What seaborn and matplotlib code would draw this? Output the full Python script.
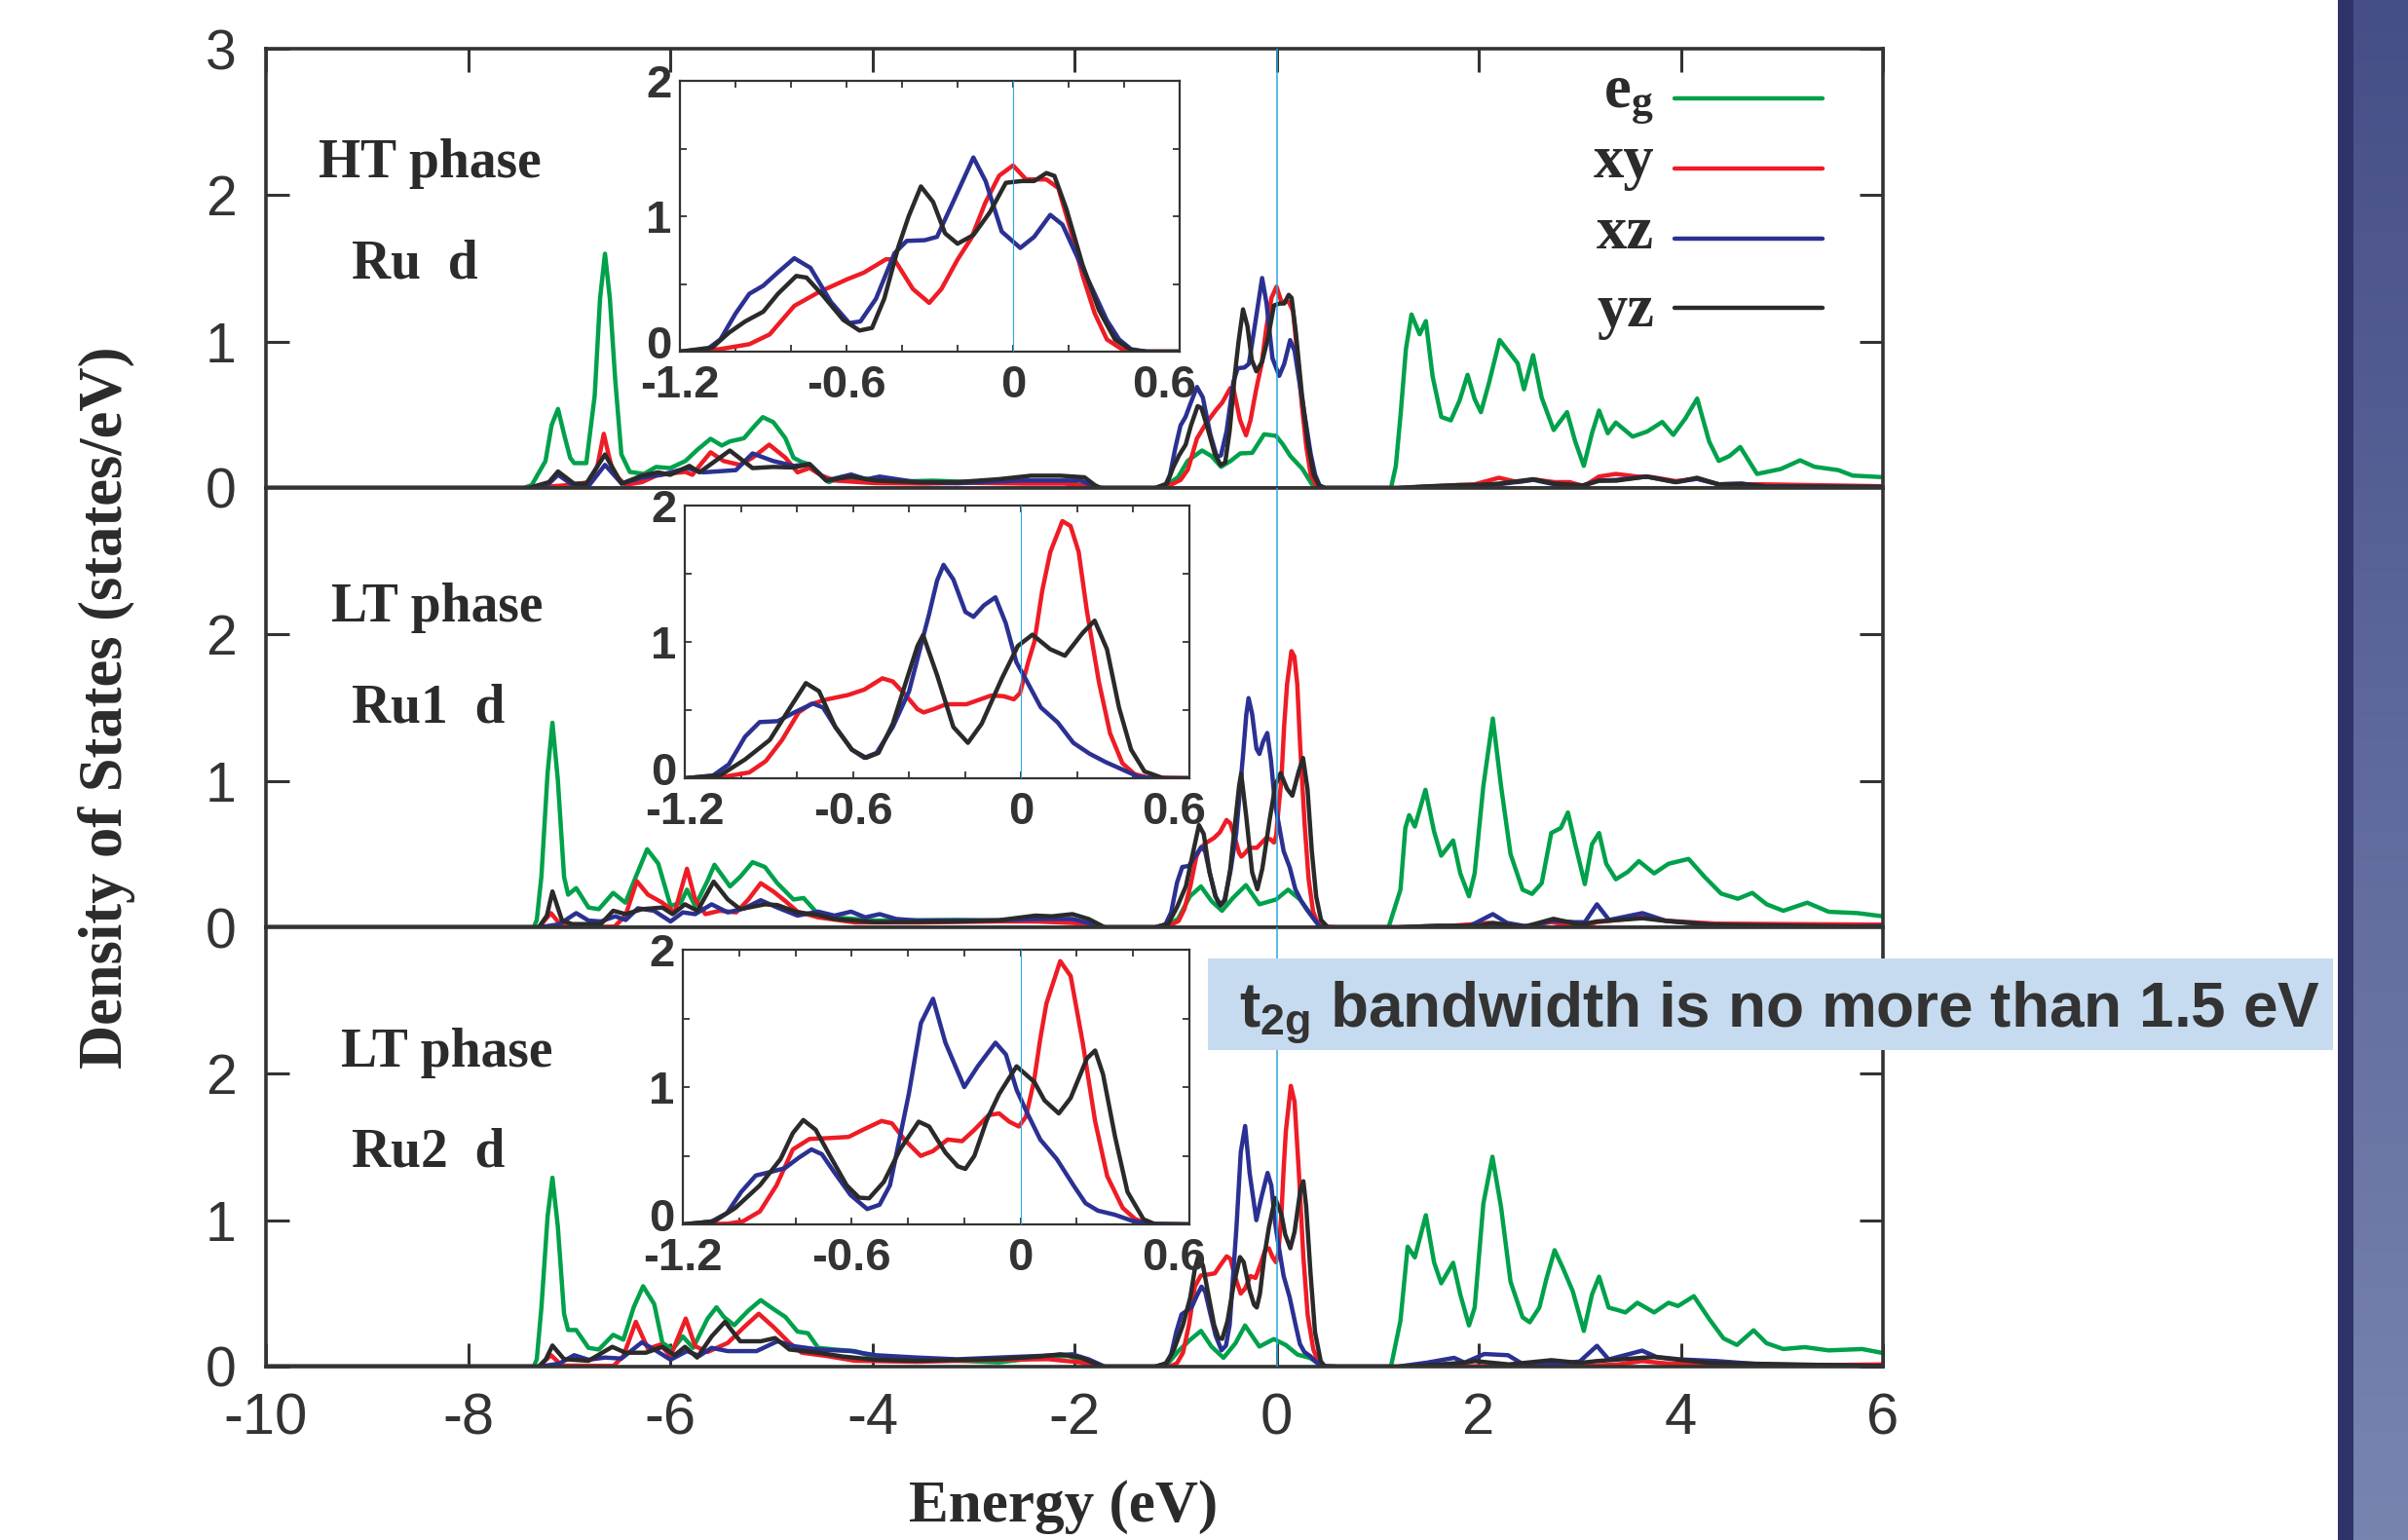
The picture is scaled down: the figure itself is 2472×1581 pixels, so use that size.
import numpy as np
import pandas as pd
import matplotlib
matplotlib.use("Agg")
import matplotlib.pyplot as plt
import matplotlib.transforms as mtransforms
import seaborn as sns
from matplotlib.patches import Rectangle
from matplotlib.lines import Line2D
from matplotlib.colors import LinearSegmentedColormap

# ---------------- data: (energy in eV, DOS in states/eV) ----------------
ORBITALS = ["eg", "xy", "xz", "yz"]
COLORS = {"eg": "#00A14B", "xy": "#EE1C25", "xz": "#2B3192", "yz": "#2A2A2A"}

# HT phase, Ru d
HT_EG = [(-10, 0), (-7.45, 0), (-7.37, 0.02), (-7.234, 0.184), (-7.173, 0.43), (-7.11, 0.54), (-7.05, 0.367),
         (-6.99, 0.207), (-6.95, 0.17), (-6.83, 0.17), (-6.747, 0.63), (-6.694, 1.295), (-6.645, 1.60),
         (-6.597, 1.295), (-6.544, 0.74), (-6.483, 0.23), (-6.40, 0.11), (-6.26, 0.096), (-6.14, 0.144),
         (-6.00, 0.136), (-5.85, 0.184), (-5.73, 0.262), (-5.60, 0.336), (-5.49, 0.29), (-5.41, 0.318),
         (-5.27, 0.34), (-5.17, 0.42), (-5.084, 0.484), (-4.98, 0.45), (-4.86, 0.34), (-4.78, 0.207),
         (-4.70, 0.178), (-4.62, 0.162), (-4.54, 0.107), (-4.43, 0.04), (-4.29, 0.078), (-4.17, 0.05),
         (-3.97, 0.07), (-3.7, 0.045), (-3.4, 0.05), (-3.0, 0.04), (-2.7, 0.045), (-2.4, 0.035), (-2.1, 0.04),
         (-1.94, 0.02), (-1.8, 0.005), (-1.69, 0),
         (-1.2, 0), (-1.117, 0.007), (-0.975, 0.074), (-0.88, 0.185), (-0.738, 0.256), (-0.644, 0.218),
         (-0.549, 0.145), (-0.454, 0.185), (-0.36, 0.236), (-0.241, 0.24), (-0.123, 0.367), (-0.005, 0.356),
         (0.06, 0.3), (0.137, 0.218), (0.256, 0.13), (0.35, 0.025), (0.445, 0),
         (1.132, 0), (1.18, 0.15), (1.227, 0.5), (1.28, 0.95), (1.335, 1.185), (1.416, 1.05), (1.477, 1.14),
         (1.544, 0.762), (1.63, 0.485), (1.724, 0.462), (1.81, 0.596), (1.89, 0.773), (1.96, 0.607),
         (2.022, 0.518), (2.102, 0.718), (2.207, 1.011), (2.3, 0.929), (2.386, 0.851), (2.448, 0.674),
         (2.538, 0.907), (2.623, 0.618), (2.742, 0.396), (2.874, 0.518), (2.955, 0.318), (3.04, 0.151),
         (3.121, 0.374), (3.191, 0.529), (3.277, 0.374), (3.357, 0.447), (3.523, 0.351), (3.665, 0.385),
         (3.816, 0.451), (3.925, 0.363), (4.044, 0.474), (4.162, 0.611), (4.28, 0.318), (4.375, 0.185),
         (4.48, 0.218), (4.588, 0.28), (4.754, 0.096), (4.99, 0.13), (5.18, 0.189), (5.322, 0.145),
         (5.559, 0.122), (5.7, 0.085), (6.0, 0.074)]
HT_XY = [(-10, 0), (-7.4, 0), (-7.2, 0.01), (-7.0, 0.02), (-6.8, 0.04), (-6.72, 0.15), (-6.657, 0.37),
         (-6.60, 0.2), (-6.56, 0.096), (-6.44, 0.022), (-6.28, 0.04), (-6.14, 0.084), (-6.0, 0.1),
         (-5.85, 0.11), (-5.78, 0.09), (-5.70, 0.16), (-5.60, 0.244), (-5.47, 0.184), (-5.31, 0.158),
         (-5.185, 0.207), (-5.02, 0.296), (-4.86, 0.207), (-4.74, 0.107), (-4.62, 0.136), (-4.5, 0.084),
         (-4.37, 0.051), (-3.97, 0.033), (-3.5, 0.03), (-3.0, 0.035), (-2.5, 0.03), (-2.1, 0.03),
         (-1.9, 0.015), (-1.78, 0),
         (-1.2, 0), (-1.054, 0.019), (-0.95, 0.055), (-0.877, 0.127), (-0.788, 0.338), (-0.70, 0.439),
         (-0.597, 0.535), (-0.538, 0.583), (-0.457, 0.683), (-0.427, 0.679), (-0.361, 0.463), (-0.302, 0.36),
         (-0.258, 0.463), (-0.20, 0.68), (-0.15, 0.84), (-0.10, 1.10), (-0.05, 1.30), (0.0, 1.375),
         (0.047, 1.272), (0.12, 1.272), (0.163, 1.208), (0.207, 0.90), (0.25, 0.566), (0.294, 0.283),
         (0.338, 0.09), (0.396, 0.013), (0.48, 0), (0.6, 0),
         (1.2, 0), (1.5, 0.01), (1.96, 0.025), (2.2, 0.07), (2.386, 0.04), (2.55, 0.058), (2.75, 0.04),
         (2.9, 0.04), (3.04, 0.012), (3.19, 0.078), (3.357, 0.096), (3.57, 0.078), (3.72, 0.074),
         (3.95, 0.047), (4.16, 0.063), (4.375, 0.025), (4.8, 0.025), (6.0, 0.012)]
HT_XZ = [(-10, 0), (-7.4, 0), (-7.2, 0.03), (-7.11, 0.09), (-6.97, 0.024), (-6.8, 0.02), (-6.645, 0.158),
         (-6.48, 0.03), (-6.28, 0.07), (-6.08, 0.092), (-5.83, 0.136), (-5.67, 0.107), (-5.35, 0.122),
         (-5.185, 0.236), (-4.98, 0.184), (-4.78, 0.151), (-4.62, 0.162), (-4.455, 0.051), (-4.21, 0.092),
         (-4.05, 0.058), (-3.93, 0.078), (-3.56, 0.04), (-3.16, 0.033), (-2.55, 0.051), (-1.94, 0.051),
         (-1.8, 0.01), (-1.74, 0),
         (-1.2, 0), (-1.1, 0.02), (-1.054, 0.091), (-1.0, 0.28), (-0.95, 0.427), (-0.9, 0.487), (-0.85, 0.58),
         (-0.788, 0.69), (-0.73, 0.619), (-0.656, 0.367), (-0.59, 0.211), (-0.55, 0.223), (-0.494, 0.39),
         (-0.427, 0.727), (-0.383, 0.818), (-0.318, 0.823), (-0.274, 0.848), (-0.216, 1.105), (-0.143, 1.434),
         (-0.099, 1.26), (-0.041, 0.887), (0.026, 0.766), (0.076, 0.848), (0.134, 1.01), (0.178, 0.938),
         (0.221, 0.745), (0.28, 0.488), (0.338, 0.231), (0.382, 0.09), (0.425, 0.018), (0.48, 0), (0.6, 0),
         (1.2, 0), (1.5, 0.005), (1.96, 0.02), (2.2, 0.025), (2.54, 0.056), (2.75, 0.025), (3.0, 0.012),
         (3.19, 0.05), (3.36, 0.055), (3.66, 0.078), (3.95, 0.04), (4.16, 0.063), (4.375, 0.025),
         (4.6, 0.03), (4.85, 0.01), (6.0, 0.007)]
HT_YZ = [(-10, 0), (-7.4, 0), (-7.2, 0.04), (-7.11, 0.113), (-6.95, 0.029), (-6.83, 0.03), (-6.645, 0.229),
         (-6.48, 0.03), (-6.28, 0.084), (-6.12, 0.107), (-6.0, 0.09), (-5.81, 0.151), (-5.71, 0.107),
         (-5.41, 0.256), (-5.185, 0.136), (-4.98, 0.144), (-4.78, 0.14), (-4.62, 0.162), (-4.455, 0.051),
         (-4.21, 0.078), (-3.97, 0.051), (-3.56, 0.04), (-3.16, 0.04), (-2.75, 0.06), (-2.43, 0.084),
         (-2.14, 0.084), (-1.9, 0.073), (-1.8, 0.02), (-1.74, 0),
         (-1.2, 0), (-1.083, 0.031), (-1.024, 0.139), (-0.965, 0.223), (-0.9, 0.295), (-0.847, 0.427),
         (-0.781, 0.559), (-0.744, 0.547), (-0.685, 0.415), (-0.612, 0.235), (-0.553, 0.156), (-0.508, 0.175),
         (-0.464, 0.391), (-0.413, 0.775), (-0.376, 1.0), (-0.332, 1.22), (-0.288, 1.105), (-0.245, 0.874),
         (-0.2, 0.797), (-0.143, 0.861), (-0.084, 1.028), (-0.026, 1.247), (0.032, 1.26), (0.076, 1.26),
         (0.12, 1.319), (0.149, 1.298), (0.192, 1.054), (0.25, 0.643), (0.309, 0.308), (0.367, 0.09),
         (0.425, 0.013), (0.48, 0), (0.6, 0),
         (1.2, 0), (1.45, 0.01), (1.8, 0.02), (2.0, 0.02), (2.2, 0.03), (2.54, 0.06), (2.75, 0.03),
         (3.04, 0.018), (3.19, 0.05), (3.36, 0.05), (3.66, 0.078), (3.95, 0.04), (4.16, 0.07),
         (4.375, 0.025), (4.6, 0.028), (4.85, 0.01), (6.0, 0.007)]

# LT phase, Ru1 d
LT1_EG = [(-10, 0), (-7.35, 0), (-7.32, 0.05), (-7.274, 0.35), (-7.213, 1.054), (-7.165, 1.397), (-7.112, 1.01),
          (-7.05, 0.345), (-7.01, 0.223), (-6.93, 0.268), (-6.808, 0.135), (-6.706, 0.124), (-6.564, 0.235),
          (-6.443, 0.168), (-6.34, 0.345), (-6.228, 0.533), (-6.118, 0.435), (-5.996, 0.146), (-5.895, 0.168),
          (-5.834, 0.257), (-5.753, 0.146), (-5.63, 0.318), (-5.562, 0.427), (-5.408, 0.279), (-5.307, 0.345),
          (-5.185, 0.445), (-5.063, 0.412), (-4.94, 0.301), (-4.78, 0.19), (-4.68, 0.2), (-4.536, 0.09),
          (-4.374, 0.068), (-3.97, 0.046), (-3.16, 0.05), (-2.345, 0.04), (-1.94, 0.033), (-1.8, 0.01),
          (-1.737, 0),
          (-1.2, 0), (-1.117, 0), (-0.975, 0.058), (-0.857, 0.212), (-0.748, 0.279), (-0.644, 0.179),
          (-0.54, 0.113), (-0.431, 0.201), (-0.303, 0.288), (-0.17, 0.157), (-0.005, 0.19), (0.114, 0.257),
          (0.232, 0.19), (0.374, 0.058), (0.469, 0),
          (1.108, 0), (1.226, 0.257), (1.274, 0.678), (1.312, 0.766), (1.368, 0.688), (1.473, 0.939),
          (1.558, 0.655), (1.629, 0.489), (1.747, 0.593), (1.818, 0.368), (1.904, 0.212), (1.96, 0.368),
          (2.046, 0.965), (2.14, 1.426), (2.221, 0.965), (2.315, 0.5), (2.434, 0.257), (2.528, 0.228),
          (2.623, 0.301), (2.718, 0.644), (2.812, 0.678), (2.883, 0.784), (2.955, 0.567), (3.05, 0.295),
          (3.121, 0.567), (3.191, 0.644), (3.262, 0.434), (3.357, 0.328), (3.476, 0.379), (3.585, 0.452),
          (3.736, 0.368), (3.878, 0.434), (4.077, 0.467), (4.233, 0.346), (4.399, 0.23), (4.565, 0.195),
          (4.707, 0.235), (4.85, 0.157), (5.014, 0.113), (5.251, 0.168), (5.464, 0.106), (5.748, 0.097),
          (6.0, 0.075)]
LT1_XY = [(-10, 0), (-7.3, 0), (-7.18, 0.097), (-7.09, 0.022), (-7.0, 0), (-6.55, 0.005), (-6.443, 0.08),
          (-6.33, 0.315), (-6.22, 0.223), (-6.077, 0.168), (-5.956, 0.102), (-5.834, 0.4), (-5.753, 0.19),
          (-5.651, 0.09), (-5.51, 0.113), (-5.347, 0.102), (-5.226, 0.19), (-5.104, 0.301), (-4.98, 0.245),
          (-4.86, 0.179), (-4.74, 0.107), (-4.536, 0.068), (-4.17, 0.033), (-3.56, 0.033), (-2.75, 0.04),
          (-2.345, 0.04), (-1.94, 0.027), (-1.74, 0),
          (-1.2, 0), (-1.072, 0.007), (-0.97, 0.043), (-0.911, 0.126), (-0.853, 0.281), (-0.794, 0.483),
          (-0.751, 0.543), (-0.692, 0.579), (-0.619, 0.61), (-0.56, 0.65), (-0.495, 0.733), (-0.458, 0.71),
          (-0.414, 0.614), (-0.37, 0.507), (-0.348, 0.483), (-0.312, 0.507), (-0.268, 0.543), (-0.195, 0.543),
          (-0.107, 0.607), (-0.063, 0.602), (-0.026, 0.579), (-0.004, 0.626), (0.025, 0.852), (0.047, 1.0),
          (0.075, 1.375), (0.104, 1.66), (0.147, 1.886), (0.176, 1.85), (0.205, 1.66), (0.234, 1.232),
          (0.277, 0.709), (0.317, 0.33), (0.361, 0.11), (0.405, 0.03), (0.45, 0.007), (0.6, 0),
          (1.2, 0), (1.6, 0.003), (2.1, 0.03), (2.4, 0.003), (2.72, 0.035), (3.0, 0.003), (3.17, 0.035),
          (3.62, 0.068), (3.85, 0.045), (4.35, 0.025), (6.0, 0.018)]
LT1_XZ = [(-10, 0), (-7.3, 0), (-7.1, 0.02), (-6.93, 0.097), (-6.808, 0.046), (-6.686, 0.04), (-6.544, 0.075),
          (-6.44, 0.05), (-6.32, 0.13), (-6.16, 0.113), (-5.996, 0.04), (-5.875, 0.102), (-5.753, 0.09),
          (-5.59, 0.157), (-5.43, 0.102), (-5.266, 0.13), (-5.104, 0.185), (-4.94, 0.135), (-4.74, 0.08),
          (-4.536, 0.107), (-4.374, 0.08), (-4.21, 0.107), (-4.07, 0.068), (-3.927, 0.09), (-3.765, 0.057),
          (-3.56, 0.046), (-2.75, 0.048), (-2.345, 0.057), (-2.02, 0.057), (-1.82, 0.022), (-1.7, 0),
          (-1.2, 0), (-1.1, 0.019), (-1.043, 0.102), (-0.985, 0.305), (-0.933, 0.412), (-0.868, 0.419),
          (-0.809, 0.483), (-0.743, 0.548), (-0.707, 0.519), (-0.663, 0.376), (-0.604, 0.21), (-0.56, 0.15),
          (-0.516, 0.186), (-0.458, 0.376), (-0.4, 0.638), (-0.355, 0.995), (-0.329, 1.2), (-0.3, 1.45),
          (-0.277, 1.565), (-0.242, 1.458), (-0.199, 1.22), (-0.17, 1.184), (-0.133, 1.268), (-0.092, 1.327),
          (-0.055, 1.137), (-0.017, 0.851), (0.018, 0.72), (0.07, 0.52), (0.13, 0.41), (0.186, 0.26),
          (0.244, 0.18), (0.3, 0.12), (0.36, 0.065), (0.42, 0.01), (0.47, 0), (0.6, 0),
          (1.2, 0), (1.6, 0.01), (1.9, 0.005), (2.14, 0.09), (2.28, 0.03), (2.5, 0.003), (2.72, 0.046),
          (2.95, 0.035), (3.05, 0.035), (3.17, 0.157), (3.29, 0.05), (3.62, 0.097), (3.85, 0.045),
          (4.3, 0.018), (4.8, 0), (6.0, 0.008)]
LT1_YZ = [(-10, 0), (-7.3, 0), (-7.22, 0.08), (-7.165, 0.245), (-7.07, 0.046), (-6.97, 0.022), (-6.686, 0.022),
          (-6.564, 0.113), (-6.44, 0.09), (-6.28, 0.124), (-6.077, 0.135), (-5.976, 0.09), (-5.854, 0.157),
          (-5.73, 0.113), (-5.57, 0.312), (-5.43, 0.19), (-5.307, 0.124), (-5.063, 0.157), (-4.94, 0.152),
          (-4.74, 0.102), (-4.536, 0.085), (-4.374, 0.057), (-3.97, 0.035), (-3.16, 0.04), (-2.75, 0.048),
          (-2.386, 0.08), (-2.224, 0.075), (-2.02, 0.09), (-1.86, 0.057), (-1.7, 0),
          (-1.2, 0), (-1.072, 0.024), (-0.985, 0.138), (-0.897, 0.281), (-0.824, 0.519), (-0.768, 0.698),
          (-0.721, 0.638), (-0.663, 0.376), (-0.604, 0.21), (-0.553, 0.15), (-0.509, 0.186), (-0.458, 0.4),
          (-0.407, 0.733), (-0.37, 0.97), (-0.35, 1.05), (-0.3, 0.756), (-0.242, 0.376), (-0.19, 0.26),
          (-0.141, 0.4), (-0.069, 0.732), (-0.012, 0.97), (0.04, 1.053), (0.104, 0.946), (0.156, 0.899),
          (0.219, 1.065), (0.262, 1.156), (0.306, 0.946), (0.349, 0.518), (0.392, 0.21), (0.44, 0.05),
          (0.508, 0), (0.6, 0),
          (1.2, 0), (1.6, 0.01), (2.0, 0.01), (2.14, 0.03), (2.45, 0.003), (2.74, 0.058), (3.0, 0.018),
          (3.17, 0.04), (3.62, 0.062), (3.9, 0.04), (4.3, 0.018), (6.0, 0.003)]

# LT phase, Ru2 d
LT2_EG = [(-10, 0), (-7.35, 0), (-7.32, 0.05), (-7.274, 0.405), (-7.213, 1.025), (-7.165, 1.29), (-7.112, 0.959),
          (-7.05, 0.361), (-7.01, 0.25), (-6.93, 0.25), (-6.808, 0.128), (-6.706, 0.117), (-6.564, 0.217),
          (-6.463, 0.184), (-6.361, 0.405), (-6.268, 0.549), (-6.158, 0.427), (-6.077, 0.162), (-5.976, 0.117),
          (-5.875, 0.206), (-5.773, 0.128), (-5.63, 0.328), (-5.542, 0.405), (-5.469, 0.339), (-5.367, 0.283),
          (-5.226, 0.383), (-5.104, 0.454), (-4.98, 0.394), (-4.86, 0.339), (-4.74, 0.239), (-4.637, 0.228),
          (-4.536, 0.128), (-4.374, 0.117), (-4.17, 0.106), (-3.97, 0.062), (-3.56, 0.051), (-2.75, 0.029),
          (-2.345, 0.062), (-2.06, 0.073), (-1.86, 0.029), (-1.737, 0),
          (-1.2, 0), (-1.1, 0), (-0.975, 0.104), (-0.857, 0.182), (-0.748, 0.244), (-0.644, 0.137),
          (-0.525, 0.06), (-0.407, 0.159), (-0.312, 0.281), (-0.17, 0.137), (-0.028, 0.188), (0.09, 0.148),
          (0.208, 0.082), (0.327, 0.06), (0.469, 0),
          (1.132, 0), (1.226, 0.315), (1.297, 0.819), (1.368, 0.746), (1.477, 1.034), (1.558, 0.713),
          (1.629, 0.569), (1.747, 0.709), (1.818, 0.492), (1.904, 0.281), (1.96, 0.403), (2.046, 1.112),
          (2.136, 1.433), (2.221, 1.09), (2.315, 0.58), (2.434, 0.337), (2.505, 0.303), (2.6, 0.403),
          (2.671, 0.602), (2.751, 0.795), (2.836, 0.669), (2.931, 0.514), (3.04, 0.244), (3.121, 0.492),
          (3.191, 0.614), (3.286, 0.403), (3.381, 0.385), (3.452, 0.37), (3.57, 0.436), (3.736, 0.37),
          (3.878, 0.436), (3.973, 0.414), (4.129, 0.481), (4.28, 0.326), (4.422, 0.193), (4.555, 0.148),
          (4.72, 0.248), (4.848, 0.16), (5.014, 0.12), (5.227, 0.133), (5.464, 0.111), (5.795, 0.12),
          (6.0, 0.093)]
LT2_XY = [(-10, 0), (-7.3, 0), (-7.18, 0.078), (-7.07, 0.007), (-6.56, 0.005), (-6.463, 0.073), (-6.34, 0.306),
          (-6.22, 0.122), (-6.098, 0.15), (-5.996, 0.073), (-5.846, 0.328), (-5.753, 0.14), (-5.63, 0.1),
          (-5.43, 0.162), (-5.266, 0.272), (-5.124, 0.361), (-4.98, 0.272), (-4.82, 0.162), (-4.698, 0.095),
          (-4.455, 0.073), (-4.17, 0.04), (-3.56, 0.033), (-2.75, 0.047), (-2.26, 0.051), (-1.94, 0.029),
          (-1.76, 0),
          (-1.2, 0), (-1.04, 0.005), (-0.985, 0.024), (-0.926, 0.095), (-0.867, 0.285), (-0.809, 0.546),
          (-0.75, 0.622), (-0.677, 0.629), (-0.611, 0.637), (-0.56, 0.689), (-0.494, 0.753), (-0.457, 0.736),
          (-0.413, 0.618), (-0.355, 0.499), (-0.311, 0.534), (-0.259, 0.618), (-0.208, 0.606), (-0.164, 0.689),
          (-0.113, 0.796), (-0.076, 0.808), (-0.04, 0.748), (-0.006, 0.713), (0.019, 0.784), (0.048, 1.045),
          (0.07, 1.35), (0.092, 1.609), (0.141, 1.917), (0.178, 1.809), (0.221, 1.323), (0.265, 0.751),
          (0.308, 0.351), (0.363, 0.12), (0.407, 0.04), (0.45, 0.005), (0.6, 0),
          (1.2, 0), (2.0, 0.003), (3.0, 0.003), (3.38, 0.015), (3.617, 0.038), (3.85, 0.022), (4.5, 0.003),
          (6.0, 0.015)]
LT2_XZ = [(-10, 0), (-7.3, 0), (-7.1, 0.02), (-6.95, 0.078), (-6.808, 0.047), (-6.645, 0.062), (-6.483, 0.055),
          (-6.28, 0.166), (-6.158, 0.117), (-5.996, 0.047), (-5.834, 0.106), (-5.712, 0.073), (-5.59, 0.128),
          (-5.43, 0.106), (-5.145, 0.106), (-4.94, 0.173), (-4.78, 0.14), (-4.536, 0.117), (-4.21, 0.106),
          (-3.97, 0.078), (-3.56, 0.062), (-3.16, 0.05), (-2.75, 0.062), (-2.345, 0.073), (-2.02, 0.084),
          (-1.86, 0.05), (-1.7, 0),
          (-1.2, 0), (-1.1, 0.019), (-1.043, 0.083), (-0.992, 0.238), (-0.941, 0.356), (-0.882, 0.385),
          (-0.838, 0.409), (-0.787, 0.487), (-0.743, 0.546), (-0.706, 0.511), (-0.662, 0.38), (-0.604, 0.214),
          (-0.545, 0.112), (-0.501, 0.143), (-0.464, 0.285), (-0.428, 0.641), (-0.397, 0.95), (-0.354, 1.466),
          (-0.311, 1.643), (-0.267, 1.323), (-0.2, 1.0), (-0.152, 1.151), (-0.089, 1.323), (-0.052, 1.237),
          (-0.014, 0.98), (0.019, 0.831), (0.07, 0.618), (0.129, 0.475), (0.188, 0.285), (0.231, 0.154),
          (0.275, 0.1), (0.334, 0.071), (0.393, 0.029), (0.451, 0.005), (0.6, 0),
          (1.2, 0), (1.487, 0.027), (1.757, 0.06), (1.86, 0.027), (2.055, 0.086), (2.29, 0.078), (2.43, 0.02),
          (2.8, 0.02), (3.0, 0.035), (3.17, 0.142), (3.286, 0.049), (3.617, 0.109), (3.76, 0.066),
          (4.0, 0.049), (4.35, 0.038), (4.8, 0.015), (6.0, 0.004)]
LT2_YZ = [(-10, 0), (-7.3, 0), (-7.23, 0.05), (-7.165, 0.144), (-7.05, 0.051), (-6.808, 0.04), (-6.573, 0.135),
          (-6.443, 0.095), (-6.24, 0.095), (-6.077, 0.135), (-5.956, 0.078), (-5.854, 0.135), (-5.733, 0.062),
          (-5.59, 0.206), (-5.457, 0.306), (-5.307, 0.173), (-5.104, 0.173), (-4.962, 0.195), (-4.82, 0.117),
          (-4.536, 0.095), (-4.292, 0.069), (-3.97, 0.047), (-3.56, 0.04), (-2.75, 0.051), (-2.345, 0.069),
          (-2.14, 0.084), (-1.94, 0.062), (-1.72, 0),
          (-1.2, 0), (-1.087, 0.024), (-1.014, 0.119), (-0.926, 0.285), (-0.853, 0.475), (-0.809, 0.665),
          (-0.772, 0.76), (-0.728, 0.689), (-0.677, 0.499), (-0.618, 0.285), (-0.574, 0.195), (-0.538, 0.19),
          (-0.486, 0.309), (-0.428, 0.546), (-0.362, 0.748), (-0.325, 0.713), (-0.267, 0.523), (-0.223, 0.423),
          (-0.196, 0.404), (-0.164, 0.499), (-0.12, 0.76), (-0.076, 0.95), (-0.047, 1.045), (-0.014, 1.151),
          (0.049, 1.037), (0.085, 0.903), (0.136, 0.808), (0.178, 0.92), (0.236, 1.209), (0.265, 1.266),
          (0.293, 1.094), (0.336, 0.637), (0.38, 0.237), (0.437, 0.037), (0.48, 0), (0.6, 0),
          (1.2, 0), (1.5, 0.01), (1.86, 0.027), (1.96, 0.038), (2.3, 0.015), (2.72, 0.044), (3.0, 0.025),
          (3.17, 0.038), (3.736, 0.066), (4.0, 0.045), (4.3, 0.025), (6.0, 0.004)]

PANEL_CURVES = [
    [HT_EG, HT_XY, HT_XZ, HT_YZ],
    [LT1_EG, LT1_XY, LT1_XZ, LT1_YZ],
    [LT2_EG, LT2_XY, LT2_XZ, LT2_YZ],
]
PANEL_TITLES = [("HT phase", "Ru  d"), ("LT phase", "Ru1  d"), ("LT phase", "Ru2  d")]
XTICKS = [-10, -8, -6, -4, -2, 0, 2, 4, 6]
XTICK_LABELS = ["-10", "-8", "-6", "-4", "-2", "0", "2", "4", "6"]
INSET_XTICKS = [-1.2, -0.6, 0, 0.6]
INSET_XTICK_LABELS = ["-1.2", "-0.6", "0", "0.6"]
LEGEND_LABELS = [r"e$_{\mathrm{g}}$", "xy", "xz", "yz"]
NOTE = r"t$_{\mathsf{2g}}$ bandwidth is no more than 1.5 eV"

# ---------------- style ----------------
sns.set_style("ticks")
plt.rcParams["font.family"] = ["Liberation Sans", "DejaVu Sans"]
plt.rcParams.update({
    "axes.unicode_minus": False,
    "mathtext.fontset": "custom",
    "mathtext.rm": "Liberation Serif:bold",
    "mathtext.sf": "Liberation Sans:bold",
    "mathtext.it": "Liberation Serif:bold:italic",
    "mathtext.bf": "Liberation Serif:bold",
    "lines.solid_joinstyle": "round",
    "lines.solid_capstyle": "round",
})

INK = "#333333"
FERMI = "#29A9E0"
SERIF = ["Liberation Serif", "DejaVu Serif"]
LW = 3.2

W, H, DPI = 2472, 1581, 100
fig = plt.figure(figsize=(W / DPI, H / DPI), dpi=DPI)
fig.patch.set_facecolor("white")


def fig_box(l, t, r, b):
    return [l / W, 1 - b / H, (r - l) / W, (b - t) / H]


def fx(x):
    return x / W


def fy(y):
    return 1 - y / H


def shift_px(artist, dx, dy):
    """Nudge a text artist by a number of pixels (dx right, dy up)."""
    off = mtransforms.ScaledTranslation(dx / DPI, dy / DPI, fig.dpi_scale_trans)
    artist.set_transform(artist.get_transform() + off)


def to_frame(curves):
    parts = []
    for orb, pts in zip(ORBITALS, curves):
        e, d = zip(*pts)
        parts.append(pd.DataFrame({"energy": e, "dos": d, "orbital": orb}))
    return pd.concat(parts, ignore_index=True)


PANEL_BOXES = [(273, 50, 1933, 501), (273, 501, 1933, 952), (273, 952, 1933, 1403)]
INSET_BOXES = [(698, 83, 1211, 361), (703, 519, 1221, 799), (701, 975, 1221, 1257)]
TITLE_POS = [((327, 182), (361, 286)), ((340, 638), (361, 742)), ((350, 1095), (361, 1198))]

for i, curves in enumerate(PANEL_CURVES):
    df = to_frame(curves)

    ax = fig.add_axes(fig_box(*PANEL_BOXES[i]))
    sns.lineplot(data=df, x="energy", y="dos", hue="orbital", hue_order=ORBITALS,
                 palette=COLORS, estimator=None, sort=False, legend=False,
                 linewidth=LW, ax=ax)
    ax.axvline(0, color=FERMI, lw=1.1, zorder=6)
    ax.set_xlim(-10, 6)
    ax.set_ylim(0, 3)
    ax.set_xlabel("")
    ax.set_ylabel("")
    ax.set_xticks(XTICKS)
    ax.set_xticklabels(XTICK_LABELS)
    if i == 0:
        ax.set_yticks([0, 1, 2, 3])
        ax.set_yticklabels(["0", "1", "2", "3"])
    else:
        ax.set_yticks([0, 1, 2])
        ax.set_yticklabels(["0", "1", "2"])
    ax.tick_params(axis="both", direction="in", length=17, width=2.2, colors=INK,
                   left=True, right=True)
    ax.tick_params(axis="y", labelsize=41, pad=22)
    ax.tick_params(axis="x", labelsize=43, pad=19,
                   top=(i == 0), bottom=(i == 2), labelbottom=(i == 2), labeltop=False)
    for sp in ax.spines.values():
        sp.set_linewidth(2.6)
        sp.set_color(INK)
        sp.set_visible(True)

    # inset: t2g window around the Fermi level
    axi = fig.add_axes(fig_box(*INSET_BOXES[i]))
    sub = df[(df.orbital != "eg") & (df.energy >= -1.25) & (df.energy <= 0.65)]
    sns.lineplot(data=sub, x="energy", y="dos", hue="orbital", hue_order=ORBITALS[1:],
                 palette=COLORS, estimator=None, sort=False, legend=False,
                 linewidth=LW, ax=axi)
    axi.axvline(0, color=FERMI, lw=0.8, zorder=6)
    axi.set_xlim(-1.2, 0.6)
    axi.set_ylim(0, 2)
    axi.set_xlabel("")
    axi.set_ylabel("")
    axi.set_xticks(INSET_XTICKS)
    axi.set_xticklabels(INSET_XTICK_LABELS)
    axi.set_xticks(np.arange(-1.2, 0.61, 0.2), minor=True)
    axi.set_yticks([0, 1, 2])
    axi.set_yticklabels(["0", "1", "2"])
    axi.set_yticks([0.5, 1.5], minor=True)
    axi.tick_params(which="both", direction="in", length=5, width=1.3, colors=INK,
                    top=True, right=True, bottom=True, left=True)
    axi.tick_params(axis="x", which="major", labelsize=34, pad=9)
    axi.tick_params(axis="y", which="major", labelsize=34, pad=6)
    xl = axi.get_xticklabels()
    yl = axi.get_yticklabels()
    for lab in xl + yl:
        lab.set_fontweight("bold")
    shift_px(xl[-1], -16, 0)
    shift_px(yl[0], 0, 10)
    for sp in axi.spines.values():
        sp.set_linewidth(1.6)
        sp.set_color(INK)
        sp.set_visible(True)

    (tx1, ty1), (tx2, ty2) = TITLE_POS[i]
    fig.text(fx(tx1), fy(ty1), PANEL_TITLES[i][0], ha="left", va="baseline",
             family=SERIF, weight="bold", size=40, color="#2B2B2B")
    fig.text(fx(tx2), fy(ty2), PANEL_TITLES[i][1], ha="left", va="baseline",
             family=SERIF, weight="bold", size=40, color="#2B2B2B")

# legend of the orbital colours (top panel)
LEGEND_ROWS = [(109, 101), (182, 173), (255, 245), (335, 316)]
for label, orb, (base, ly) in zip(LEGEND_LABELS, ORBITALS, LEGEND_ROWS):
    fig.text(fx(1698), fy(base), label, ha="right", va="baseline",
             family=SERIF, weight="bold", size=45, color="#2B2B2B")
    fig.add_artist(Line2D([fx(1719), fx(1871)], [fy(ly), fy(ly)],
                          color=COLORS[orb], lw=3.2, transform=fig.transFigure))

# axis titles
fig.text(fx(110), fy(726), "Density of States (states/eV)", rotation=90,
         ha="center", va="center", family=SERIF, weight="bold", size=45, color="#2B2B2B")
fig.text(fx(1092), fy(1562), "Energy (eV)", ha="center", va="baseline",
         family=SERIF, weight="bold", size=44, color="#2B2B2B")

# annotation box
fig.add_artist(Rectangle((fx(1240), fy(1078)), (2395 - 1240) / W, (1078 - 984) / H,
                         transform=fig.transFigure, facecolor="#C6DBEF",
                         edgecolor="none", zorder=8))
fig.text(fx(1272), fy(1054), NOTE, ha="left", va="baseline", weight="bold",
         size=46, color="#333333", zorder=9)

# decorative band at the right edge
band = fig.add_axes(fig_box(2416, 0, 2472, 1581))
grad = np.linspace(0, 1, 256)[:, None]
band.imshow(grad, aspect="auto", extent=[0, 1, 1, 0],
            cmap=LinearSegmentedColormap.from_list("band", ["#464E87", "#7884B0"]))
band.axis("off")
fig.add_artist(Rectangle((fx(2400), 0), 16 / W, 1, transform=fig.transFigure,
                         facecolor="#30336A", edgecolor="none"))

fig.savefig("out.png", dpi=DPI, facecolor="white")
